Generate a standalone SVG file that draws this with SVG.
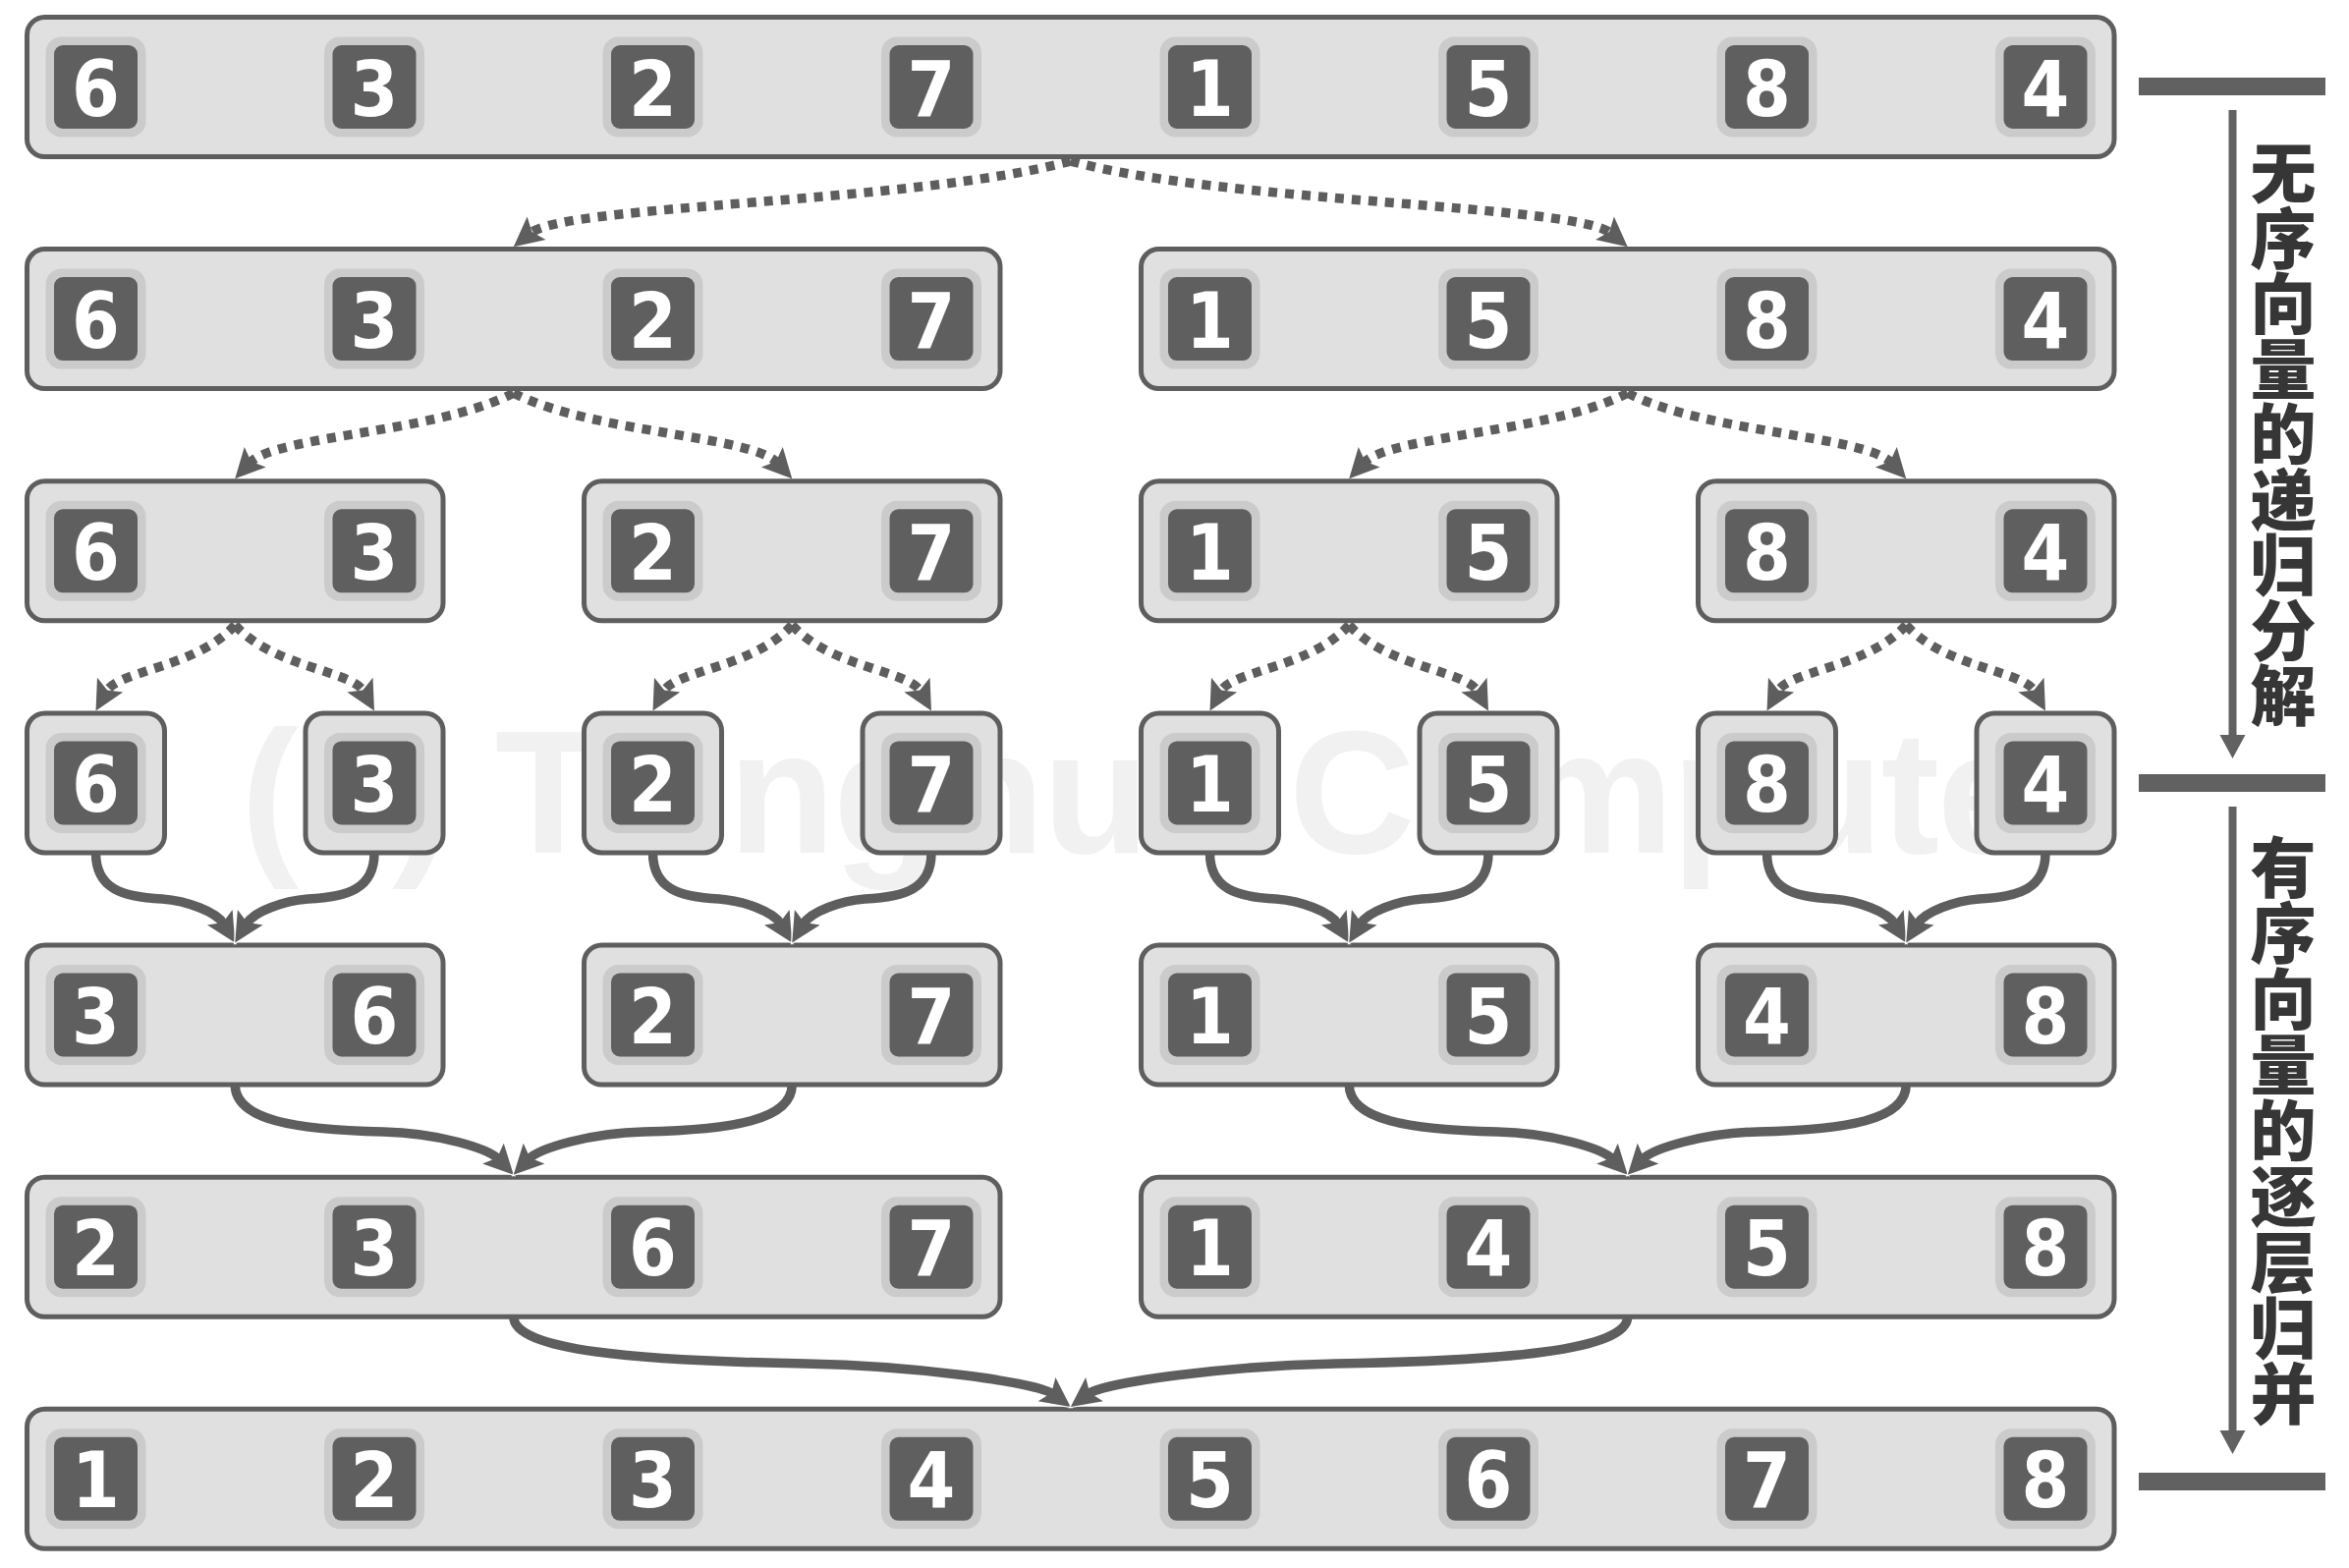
<svg xmlns="http://www.w3.org/2000/svg" xmlns:xlink="http://www.w3.org/1999/xlink" width="2391" height="1596" viewBox="0 0 2391 1596">
<style>
.box{fill:#e0e0e0;stroke:#5e5e5e;stroke-width:5}
.halo{fill:#cbcbcb}
.dark{fill:#5f5f5f}
.num{font-family:"DejaVu Sans Condensed","DejaVu Sans",sans-serif;font-stretch:condensed;font-weight:bold;font-size:78px;fill:#ffffff;text-anchor:middle}
.dot{fill:none;stroke:#5e5e5e;stroke-width:9.5;stroke-dasharray:9 8}
.sol{fill:none;stroke:#5e5e5e;stroke-width:9.5}
.lab{font-family:"Noto Sans CJK SC","Noto Sans CJK TC",sans-serif;font-weight:900;font-size:67px;fill:#363636;text-anchor:middle}
.bar{fill:#616161}
.wm{font-family:"Liberation Sans",Arial,sans-serif;font-weight:bold;font-size:178px;fill:#f1f1f1}
</style>
<defs>
<g id="cellbg"><rect x="-51" y="-51" width="102" height="102" rx="16" class="halo"/><rect x="-42.5" y="-42.5" width="85" height="85" rx="9" class="dark"/></g>
<marker id="ah" markerUnits="userSpaceOnUse" viewBox="0 -17 32 34" markerWidth="32" markerHeight="34" refX="8" refY="0" orient="auto" overflow="visible">
<path d="M0,-15 L30,0 L0,15 L6,0 Z" fill="#5e5e5e"/>
</marker>
<marker id="ahw" markerUnits="userSpaceOnUse" viewBox="0 -17 32 34" markerWidth="32" markerHeight="34" refX="8" refY="0" orient="auto" overflow="visible">
<path d="M0,-15 L30,0 L0,15" fill="none" stroke="#ffffff" stroke-width="2.5"/>
<path d="M0,-15 L30,0 L0,15 L6,0 Z" fill="#5e5e5e"/>
</marker>
</defs>
<rect width="2391" height="1596" fill="#ffffff"/>
<text class="wm" x="245" y="868" textLength="1893" lengthAdjust="spacing">(c) Tsinghua Computer</text>

<g id="nodes">
<g id="row1">
<rect class="box" x="27.5" y="17.5" width="2124.5" height="142" rx="18"/>
<use href="#cellbg" x="97.5" y="88.5"/><use href="#cellbg" x="381" y="88.5"/><use href="#cellbg" x="664.5" y="88.5"/><use href="#cellbg" x="948" y="88.5"/><use href="#cellbg" x="1231.5" y="88.5"/><use href="#cellbg" x="1515" y="88.5"/><use href="#cellbg" x="1798.5" y="88.5"/><use href="#cellbg" x="2082" y="88.5"/>
<text class="num" x="97.5" y="117.5">6</text><text class="num" x="381" y="117.5">3</text><text class="num" x="664.5" y="117.5">2</text><text class="num" x="948" y="117.5">7</text><text class="num" x="1231.5" y="117.5">1</text><text class="num" x="1515" y="117.5">5</text><text class="num" x="1798.5" y="117.5">8</text><text class="num" x="2082" y="117.5">4</text>
</g>
<g id="row2a">
<rect class="box" x="27.5" y="253.6" width="990.5" height="142" rx="18"/>
<use href="#cellbg" x="97.5" y="324.6"/><use href="#cellbg" x="381" y="324.6"/><use href="#cellbg" x="664.5" y="324.6"/><use href="#cellbg" x="948" y="324.6"/>
<text class="num" x="97.5" y="353.6">6</text><text class="num" x="381" y="353.6">3</text><text class="num" x="664.5" y="353.6">2</text><text class="num" x="948" y="353.6">7</text>
</g>
<g id="row2b">
<rect class="box" x="1161.5" y="253.6" width="990.5" height="142" rx="18"/>
<use href="#cellbg" x="1231.5" y="324.6"/><use href="#cellbg" x="1515" y="324.6"/><use href="#cellbg" x="1798.5" y="324.6"/><use href="#cellbg" x="2082" y="324.6"/>
<text class="num" x="1231.5" y="353.6">1</text><text class="num" x="1515" y="353.6">5</text><text class="num" x="1798.5" y="353.6">8</text><text class="num" x="2082" y="353.6">4</text>
</g>
<g id="row3a">
<rect class="box" x="27.5" y="489.8" width="423.5" height="142" rx="18"/>
<use href="#cellbg" x="97.5" y="560.8"/><use href="#cellbg" x="381" y="560.8"/>
<text class="num" x="97.5" y="589.8">6</text><text class="num" x="381" y="589.8">3</text>
</g>
<g id="row3b">
<rect class="box" x="594.5" y="489.8" width="423.5" height="142" rx="18"/>
<use href="#cellbg" x="664.5" y="560.8"/><use href="#cellbg" x="948" y="560.8"/>
<text class="num" x="664.5" y="589.8">2</text><text class="num" x="948" y="589.8">7</text>
</g>
<g id="row3c">
<rect class="box" x="1161.5" y="489.8" width="423.5" height="142" rx="18"/>
<use href="#cellbg" x="1231.5" y="560.8"/><use href="#cellbg" x="1515" y="560.8"/>
<text class="num" x="1231.5" y="589.8">1</text><text class="num" x="1515" y="589.8">5</text>
</g>
<g id="row3d">
<rect class="box" x="1728.5" y="489.8" width="423.5" height="142" rx="18"/>
<use href="#cellbg" x="1798.5" y="560.8"/><use href="#cellbg" x="2082" y="560.8"/>
<text class="num" x="1798.5" y="589.8">8</text><text class="num" x="2082" y="589.8">4</text>
</g>
<g id="row4a"><rect class="box" x="27.5" y="725.9" width="140" height="142" rx="18"/><use href="#cellbg" x="97.5" y="796.9"/><text class="num" x="97.5" y="825.9">6</text></g>
<g id="row4b"><rect class="box" x="311" y="725.9" width="140" height="142" rx="18"/><use href="#cellbg" x="381" y="796.9"/><text class="num" x="381" y="825.9">3</text></g>
<g id="row4c"><rect class="box" x="594.5" y="725.9" width="140" height="142" rx="18"/><use href="#cellbg" x="664.5" y="796.9"/><text class="num" x="664.5" y="825.9">2</text></g>
<g id="row4d"><rect class="box" x="878" y="725.9" width="140" height="142" rx="18"/><use href="#cellbg" x="948" y="796.9"/><text class="num" x="948" y="825.9">7</text></g>
<g id="row4e"><rect class="box" x="1161.5" y="725.9" width="140" height="142" rx="18"/><use href="#cellbg" x="1231.5" y="796.9"/><text class="num" x="1231.5" y="825.9">1</text></g>
<g id="row4f"><rect class="box" x="1445" y="725.9" width="140" height="142" rx="18"/><use href="#cellbg" x="1515" y="796.9"/><text class="num" x="1515" y="825.9">5</text></g>
<g id="row4g"><rect class="box" x="1728.5" y="725.9" width="140" height="142" rx="18"/><use href="#cellbg" x="1798.5" y="796.9"/><text class="num" x="1798.5" y="825.9">8</text></g>
<g id="row4h"><rect class="box" x="2012" y="725.9" width="140" height="142" rx="18"/><use href="#cellbg" x="2082" y="796.9"/><text class="num" x="2082" y="825.9">4</text></g>
<g id="row5a">
<rect class="box" x="27.5" y="962" width="423.5" height="142" rx="18"/>
<use href="#cellbg" x="97.5" y="1033"/><use href="#cellbg" x="381" y="1033"/>
<text class="num" x="97.5" y="1062">3</text><text class="num" x="381" y="1062">6</text>
</g>
<g id="row5b">
<rect class="box" x="594.5" y="962" width="423.5" height="142" rx="18"/>
<use href="#cellbg" x="664.5" y="1033"/><use href="#cellbg" x="948" y="1033"/>
<text class="num" x="664.5" y="1062">2</text><text class="num" x="948" y="1062">7</text>
</g>
<g id="row5c">
<rect class="box" x="1161.5" y="962" width="423.5" height="142" rx="18"/>
<use href="#cellbg" x="1231.5" y="1033"/><use href="#cellbg" x="1515" y="1033"/>
<text class="num" x="1231.5" y="1062">1</text><text class="num" x="1515" y="1062">5</text>
</g>
<g id="row5d">
<rect class="box" x="1728.5" y="962" width="423.5" height="142" rx="18"/>
<use href="#cellbg" x="1798.5" y="1033"/><use href="#cellbg" x="2082" y="1033"/>
<text class="num" x="1798.5" y="1062">4</text><text class="num" x="2082" y="1062">8</text>
</g>
<g id="row6a">
<rect class="box" x="27.5" y="1198.2" width="990.5" height="142" rx="18"/>
<use href="#cellbg" x="97.5" y="1269.2"/><use href="#cellbg" x="381" y="1269.2"/><use href="#cellbg" x="664.5" y="1269.2"/><use href="#cellbg" x="948" y="1269.2"/>
<text class="num" x="97.5" y="1298.2">2</text><text class="num" x="381" y="1298.2">3</text><text class="num" x="664.5" y="1298.2">6</text><text class="num" x="948" y="1298.2">7</text>
</g>
<g id="row6b">
<rect class="box" x="1161.5" y="1198.2" width="990.5" height="142" rx="18"/>
<use href="#cellbg" x="1231.5" y="1269.2"/><use href="#cellbg" x="1515" y="1269.2"/><use href="#cellbg" x="1798.5" y="1269.2"/><use href="#cellbg" x="2082" y="1269.2"/>
<text class="num" x="1231.5" y="1298.2">1</text><text class="num" x="1515" y="1298.2">4</text><text class="num" x="1798.5" y="1298.2">5</text><text class="num" x="2082" y="1298.2">8</text>
</g>
<g id="row7">
<rect class="box" x="27.5" y="1434.3" width="2124.5" height="142" rx="18"/>
<use href="#cellbg" x="97.5" y="1505.3"/><use href="#cellbg" x="381" y="1505.3"/><use href="#cellbg" x="664.5" y="1505.3"/><use href="#cellbg" x="948" y="1505.3"/><use href="#cellbg" x="1231.5" y="1505.3"/><use href="#cellbg" x="1515" y="1505.3"/><use href="#cellbg" x="1798.5" y="1505.3"/><use href="#cellbg" x="2082" y="1505.3"/>
<text class="num" x="97.5" y="1534.3">1</text><text class="num" x="381" y="1534.3">2</text><text class="num" x="664.5" y="1534.3">3</text><text class="num" x="948" y="1534.3">4</text><text class="num" x="1231.5" y="1534.3">5</text><text class="num" x="1515" y="1534.3">6</text><text class="num" x="1798.5" y="1534.3">7</text><text class="num" x="2082" y="1534.3">8</text>
</g>
</g>

<g id="connectors">
<g id="split">
<path class="dot" marker-end="url(#ah)" d="M1089.75,164 C931,207 576,208 539.85,237.3"/>
<path class="dot" marker-end="url(#ah)" d="M1089.75,164 C1248.5,207 1603.5,208 1639.65,237.3"/>
<path class="dot" marker-end="url(#ah)" d="M522.75,400.1 C443.4,441 280.6,443 254.25,471.2"/>
<path class="dot" marker-end="url(#ah)" d="M522.75,400.1 C602.1,441 764.9,443 791.25,471.2"/>
<path class="dot" marker-end="url(#ah)" d="M1656.75,400.1 C1577.4,441 1414.6,443 1388.25,471.2"/>
<path class="dot" marker-end="url(#ah)" d="M1656.75,400.1 C1736.1,441 1898.9,443 1925.25,471.2"/>
<path class="dot" marker-end="url(#ah)" d="M239.25,636.3 C199.6,680 120.5,682 108.2,704.15"/>
<path class="dot" marker-end="url(#ah)" d="M239.25,636.3 C278.9,680 358,682 370.3,704.15"/>
<path class="dot" marker-end="url(#ah)" d="M806.25,636.3 C766.6,680 687.5,682 675.2,704.15"/>
<path class="dot" marker-end="url(#ah)" d="M806.25,636.3 C845.9,680 925,682 937.3,704.15"/>
<path class="dot" marker-end="url(#ah)" d="M1373.25,636.3 C1333.6,680 1254.5,682 1242.2,704.15"/>
<path class="dot" marker-end="url(#ah)" d="M1373.25,636.3 C1412.9,680 1492,682 1504.3,704.15"/>
<path class="dot" marker-end="url(#ah)" d="M1940.25,636.3 C1900.6,680 1821.5,682 1809.2,704.15"/>
<path class="dot" marker-end="url(#ah)" d="M1940.25,636.3 C1979.9,680 2059,682 2071.3,704.15"/>
</g>
<g id="merge">
<path class="sol" marker-end="url(#ahw)" d="M97.5,868 C97.5,905 125,913 165,915 C190,917 220.2,927.8 227.9,940.6"/>
<path class="sol" marker-end="url(#ahw)" d="M381,868 C381,905 353.5,913 313.5,915 C288.5,917 258.3,927.8 250.6,940.6"/>
<path class="sol" marker-end="url(#ahw)" d="M664.5,868 C664.5,905 692,913 732,915 C757,917 787.2,927.8 794.9,940.6"/>
<path class="sol" marker-end="url(#ahw)" d="M948,868 C948,905 920.5,913 880.5,915 C855.5,917 825.3,927.8 817.6,940.6"/>
<path class="sol" marker-end="url(#ahw)" d="M1231.5,868 C1231.5,905 1259,913 1299,915 C1324,917 1354.2,927.8 1361.9,940.6"/>
<path class="sol" marker-end="url(#ahw)" d="M1515,868 C1515,905 1487.5,913 1447.5,915 C1422.5,917 1392.3,927.8 1384.6,940.6"/>
<path class="sol" marker-end="url(#ahw)" d="M1798.5,868 C1798.5,905 1826,913 1866,915 C1891,917 1921.2,927.8 1928.9,940.6"/>
<path class="sol" marker-end="url(#ahw)" d="M2082,868 C2082,905 2054.5,913 2014.5,915 C1989.5,917 1959.3,927.8 1951.6,940.6"/>
<path class="sol" marker-end="url(#ahw)" d="M239.25,1104 C239.25,1140 300,1150 390,1152 C445,1153 497.1,1169.1 507.5,1179.9"/>
<path class="sol" marker-end="url(#ahw)" d="M806.25,1104 C806.25,1140 745.5,1150 655.5,1152 C600.5,1153 548.4,1169.1 538,1179.9"/>
<path class="sol" marker-end="url(#ahw)" d="M1373.25,1104 C1373.25,1140 1434,1150 1524,1152 C1579,1153 1631.1,1169.1 1641.5,1179.9"/>
<path class="sol" marker-end="url(#ahw)" d="M1940.25,1104 C1940.25,1140 1879.5,1150 1789.5,1152 C1734.5,1153 1682.4,1169.1 1672,1179.9"/>
<path class="sol" marker-end="url(#ahw)" d="M522.75,1340 C522.75,1375 650,1385 820,1388 C930,1390 1055.8,1407.1 1071.95,1418.9"/>
<path class="sol" marker-end="url(#ahw)" d="M1656.75,1340 C1656.75,1375 1529.5,1385 1359.5,1388 C1249.5,1390 1123.7,1407.1 1107.55,1418.9"/>
</g>
</g>

<g id="legend">
<rect class="bar" x="2177" y="79" width="190" height="18"/>
<rect class="bar" x="2177" y="788" width="190" height="18"/>
<rect class="bar" x="2177" y="1499" width="190" height="18"/>
<line x1="2272.5" y1="112" x2="2272.5" y2="750" stroke="#616161" stroke-width="8"/>
<polygon points="2259.5,748 2285.5,748 2272.5,772" fill="#616161"/>
<line x1="2272.5" y1="821" x2="2272.5" y2="1458" stroke="#616161" stroke-width="8"/>
<polygon points="2259.5,1456 2285.5,1456 2272.5,1480" fill="#616161"/>
<text class="lab"><tspan x="2324" y="201">无</tspan><tspan x="2324" y="267.5">序</tspan><tspan x="2324" y="334">向</tspan><tspan x="2324" y="400.5">量</tspan><tspan x="2324" y="467">的</tspan><tspan x="2324" y="533.5">递</tspan><tspan x="2324" y="600">归</tspan><tspan x="2324" y="666.5">分</tspan><tspan x="2324" y="733">解</tspan></text>
<text class="lab"><tspan x="2324" y="908">有</tspan><tspan x="2324" y="975">序</tspan><tspan x="2324" y="1042">向</tspan><tspan x="2324" y="1109">量</tspan><tspan x="2324" y="1176">的</tspan><tspan x="2324" y="1243">逐</tspan><tspan x="2324" y="1310">层</tspan><tspan x="2324" y="1377">归</tspan><tspan x="2324" y="1444">并</tspan></text>
</g>
</svg>
